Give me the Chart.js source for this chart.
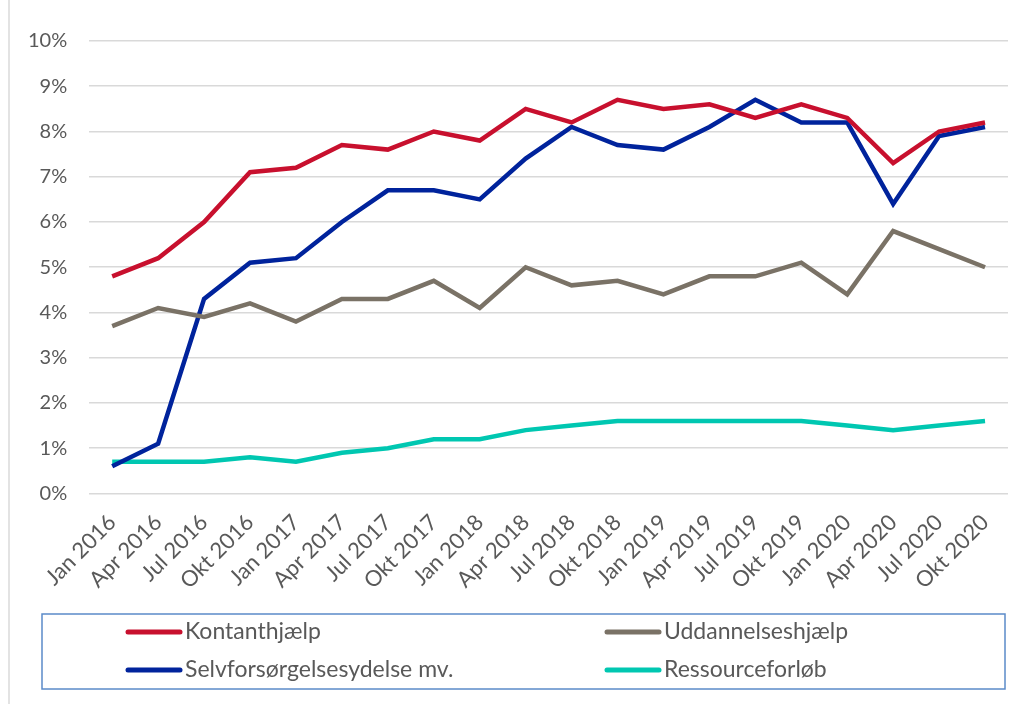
<!DOCTYPE html>
<html>
<head>
<meta charset="utf-8">
<script src="https://cdn.jsdelivr.net/npm/chart.js@4/dist/chart.umd.min.js"></script>
<style>
  html, body { margin: 0; padding: 0; background: #fff; }
  #wrap { position: relative; width: 1022px; height: 704px; }
  #frame { position: absolute; left: 8px; top: 0; width: 2px; height: 704px; background: #e3e3e3; }
  canvas { position: absolute; left: 0; top: 0; }
</style>
</head>
<body>
<div id="wrap">
  <div id="frame"></div>
  <canvas id="graf" width="1022" height="704"></canvas>
</div>
<script>
const kvartaler = ['Jan 2016', 'Apr 2016', 'Jul 2016', 'Okt 2016', 'Jan 2017', 'Apr 2017', 'Jul 2017', 'Okt 2017',
    'Jan 2018', 'Apr 2018', 'Jul 2018', 'Okt 2018', 'Jan 2019', 'Apr 2019', 'Jul 2019', 'Okt 2019',
    'Jan 2020', 'Apr 2020', 'Jul 2020', 'Okt 2020'];

const kontanthjaelp = [4.8, 5.2, 6.0, 7.1, 7.2, 7.7, 7.6, 8.0, 7.8, 8.5, 8.2, 8.7, 8.5, 8.6, 8.3, 8.6, 8.3, 7.3, 8.0, 8.2];
const uddannelseshjaelp = [3.7, 4.1, 3.9, 4.2, 3.8, 4.3, 4.3, 4.7, 4.1, 5.0, 4.6, 4.7, 4.4, 4.8, 4.8, 5.1, 4.4, 5.8, 5.4, 5.0];
const selvforsoergelse = [0.6, 1.1, 4.3, 5.1, 5.2, 6.0, 6.7, 6.7, 6.5, 7.4, 8.1, 7.7, 7.6, 8.1, 8.7, 8.2, 8.2, 6.4, 7.9, 8.1];
const ressourceforloeb = [0.7, 0.7, 0.7, 0.8, 0.7, 0.9, 1.0, 1.2, 1.2, 1.4, 1.5, 1.6, 1.6, 1.6, 1.6, 1.6, 1.5, 1.4, 1.5, 1.6];

const serier = [
    { label: 'Kontanthjælp', data: kontanthjaelp, cor: '#c8102e' },
    { label: 'Uddannelseshjælp', data: uddannelseshjaelp, cor: '#7a7266' },
    { label: 'Selvforsørgelsesydelse mv.', data: selvforsoergelse, cor: '#00239c' },
    { label: 'Ressourceforløb', data: ressourceforloeb, cor: '#00c7b1' }
];

const fonte = 'Lato, "Open Sans", sans-serif';

// legenda em caixa, duas colunas, desenhada no proprio canvas
const legendaCaixa = {
    id: 'legendaCaixa',
    afterDraw(chart) {
        const ctx = chart.ctx;
        ctx.save();
        ctx.strokeStyle = '#5b8bc9';
        ctx.lineWidth = 1.5;
        ctx.strokeRect(42, 614, 963, 75);

        const colunas = [128, 607];
        const linhas = [632, 670];
        chart.data.datasets.forEach((ds, i) => {
            const x = colunas[i % 2];
            const y = linhas[Math.floor(i / 2)];
            ctx.strokeStyle = ds.borderColor;
            ctx.lineWidth = 5;
            ctx.lineCap = 'round';
            ctx.beginPath();
            ctx.moveTo(x, y);
            ctx.lineTo(x + 52, y);
            ctx.stroke();

            ctx.fillStyle = '#595959';
            ctx.font = '23px ' + fonte;
            ctx.textBaseline = 'middle';
            ctx.fillText(ds.label, x + 57, y);
        });
        ctx.restore();
    }
};

new Chart(document.getElementById('graf').getContext('2d'), {
    type: 'line',
    data: {
        labels: kvartaler,
        datasets: serier.map(s => ({
            label: s.label,
            data: s.data,
            borderColor: s.cor,
            backgroundColor: s.cor,
            borderWidth: 4.5,
            pointRadius: 0,
            tension: 0,
            fill: false
        }))
    },
    options: {
        responsive: false,
        animation: false,
        layout: { padding: { top: 41, right: 14, bottom: 102, left: 6 } },
        plugins: {
            legend: { display: false },
            tooltip: { enabled: false }
        },
        scales: {
            x: {
                offset: true,
                grid: { display: false },
                border: { display: false },
                ticks: {
                    color: '#595959',
                    font: { family: fonte, size: 22 },
                    maxRotation: 45,
                    minRotation: 45,
                    autoSkip: false,
                    padding: 8
                }
            },
            y: {
                min: 0,
                max: 10,
                grid: { color: '#d9d9d9', lineWidth: 1.5, drawTicks: false },
                border: { display: false },
                ticks: {
                    stepSize: 1,
                    color: '#595959',
                    font: { family: fonte, size: 20 },
                    padding: 22,
                    callback: v => v + '%'
                }
            }
        }
    },
    plugins: [legendaCaixa]
});
</script>
</body>
</html>
